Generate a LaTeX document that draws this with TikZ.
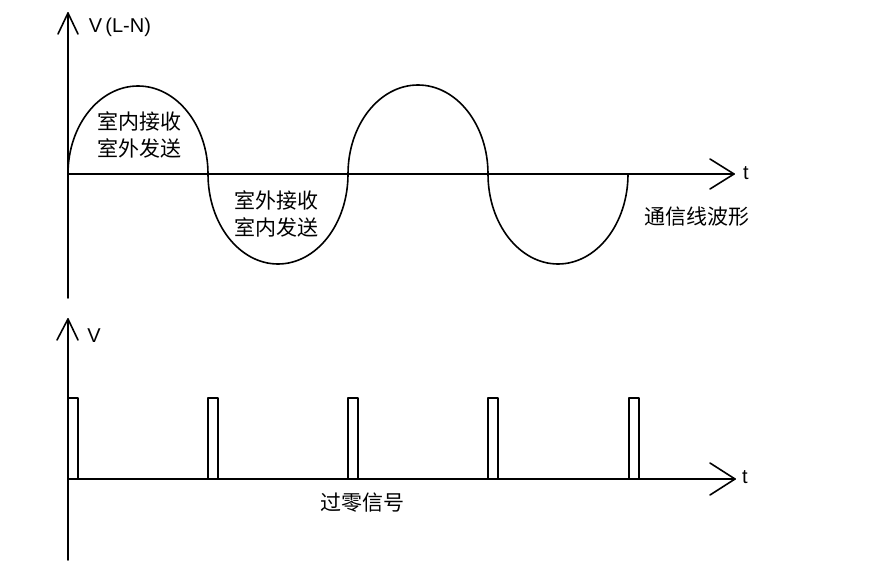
\documentclass[tikz,border=0pt]{standalone}
\usepackage{fontspec}
\setmainfont{Liberation Sans}
\newfontfamily\cjk{Noto Sans CJK SC}
\usepackage{tikz}
\usepackage{xcolor}

\begin{document}
\begin{tikzpicture}[x=1pt,y=1pt,line width=1.6pt,line cap=round,line join=round,
  lat/.style={inner sep=0pt,font=\fontsize{20}{24}\selectfont},
  han/.style={inner sep=0pt,align=center,font=\fontsize{21}{27}\selectfont\cjk}]
\useasboundingbox (0,0) rectangle (874,576);
\draw (68,278) -- (68,563);
\draw (58,542) -- (68,563) -- (78,542);
\draw (68,402) -- (734,402);
\draw (710,417) -- (734,402) -- (710,387);
\draw (68,402) arc[start angle=180,end angle=0,x radius=70,y radius=88]
  arc[start angle=180,end angle=360,x radius=70,y radius=90]
  arc[start angle=180,end angle=0,x radius=70,y radius=89]
  arc[start angle=180,end angle=360,x radius=70,y radius=90];
\node[lat,anchor=west] (vln) at (88,549) {V\,(L-N)};
\node[lat] (ttop) at (746,403) {t};
\node[han] (recvin) at (139,441) {室内接收\\室外发送};
\node[han] (recvout) at (276,362) {室外接收\\室内发送};
\node[han] (wave) at (697,359) {通信线波形};
\draw (68,16) -- (68,257);
\draw (57,236) -- (68,257) -- (78,236);
\draw (68,97) -- (735,97);
\draw (710,113) -- (735,97) -- (710,81);
\draw (68,178) -- (78,178) -- (78,97);
\draw (208,97) -- (208,178) -- (218,178) -- (218,97);
\draw (348,97) -- (348,178) -- (358,178) -- (358,97);
\draw (488,97) -- (488,178) -- (498,178) -- (498,97);
\draw (629,97) -- (629,178) -- (639,178) -- (639,97);
\node[lat] (vbot) at (94,240) {V};
\node[lat] (tbot) at (745,99) {t};
\node[han] (zero) at (362,73) {过零信号};
\end{tikzpicture}
\end{document}
